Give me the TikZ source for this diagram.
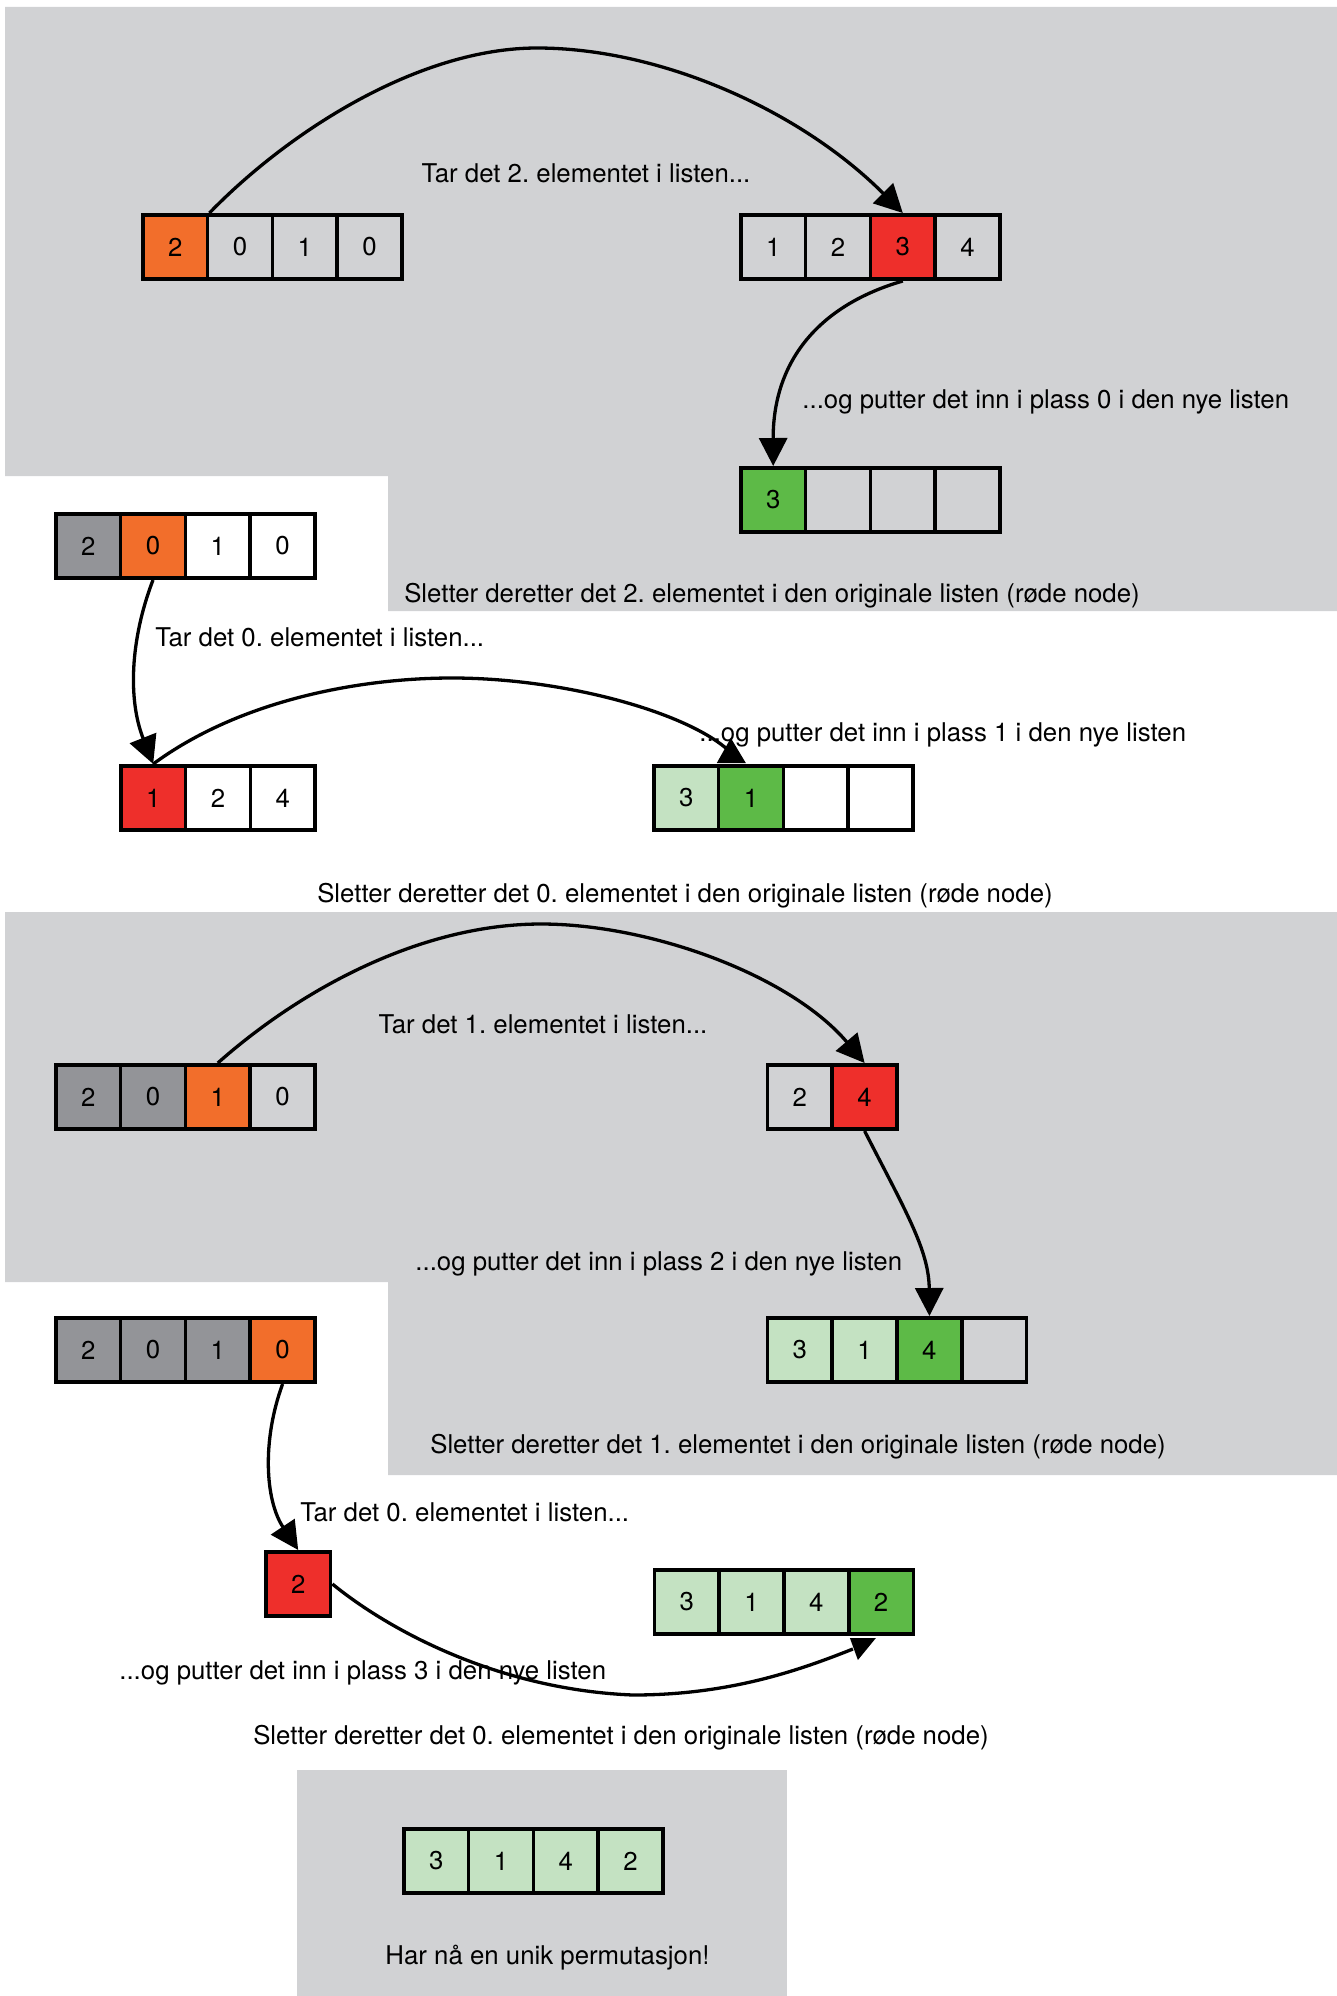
\documentclass[tikz,border=0pt]{standalone}
\usepackage{fontspec}
\setmainfont{TeX Gyre Heros}
\usetikzlibrary{arrows.meta,calc}
\frenchspacing
\definecolor{bgg}{HTML}{D1D2D4}
\definecolor{orng}{HTML}{F26E2B}
\definecolor{redc}{HTML}{EE2F2B}
\definecolor{grn}{HTML}{5DBA47}
\definecolor{lgrn}{HTML}{C4E2C2}
\definecolor{dgry}{HTML}{939498}
\newcommand\lblfont{\fontsize{12.9pt}{15.5pt}\selectfont\frenchspacing}
\newcommand\cellrow[4]{%
  \foreach [count=\i] \f/\t in {#4} {
    \node[cell, fill=\f] (#1-\i) at ({#2+1.8+64.8*(\i-0.5)}, {#3+34}) {\t};
  }%
}
\tikzset{
  cell/.style={draw, line width=1.8pt, minimum width=32.4pt, minimum height=32.2pt,
    inner sep=0pt, anchor=center, font=\lblfont},
  lbl/.style={inner sep=0pt, font=\lblfont},
  conn/.style={line width=1.65pt, -{Triangle[length=14pt,width=14pt]}},
  connplain/.style={line width=1.65pt},
  panel/.style={fill=bgg, draw=none}
}
\begin{document}
\begin{tikzpicture}[x=0.5pt, y=-0.5pt]
\useasboundingbox (0,0) rectangle (1337,1996);
% gray panels
\fill[panel] (5,7) -- (1337,7) -- (1337,611) -- (388,611) -- (388,476) -- (5,476) -- cycle;
\fill[panel] (5,912) -- (1337,912) -- (1337,1475) -- (388,1475) -- (388,1282) -- (5,1282) -- cycle;
\fill[panel] (297,1770) rectangle (787,1996);

% ---------- step 1 ----------
\cellrow{Pa}{141}{213}{orng/2, bgg/0, bgg/1, bgg/0}
\cellrow{Pb}{739}{213}{bgg/1, bgg/2, redc/3, bgg/4}
\cellrow{Pc}{739}{466}{grn/3, bgg/{}, bgg/{}, bgg/{}}
\draw[conn] (Pa-1.north east) .. controls (290,130) and (420,48) .. (537,48)
  .. controls (660,48) and (800,110) .. (Pb-3.north);
\draw[conn] (Pb-3.south) .. controls (820,305) and (773,360) .. (Pc-1.north);
\node[lbl, anchor=base] (t1a) at (586,183) {Tar det 2. elementet i listen...};
\node[lbl, anchor=base west] (t1b) at (802,408) {...og putter det inn i plass 0 i den nye listen};
\node[lbl, anchor=base] (t1c) at (772,602) {Sletter deretter det 2. elementet i den originale listen (røde node)};

% ---------- step 2 ----------
\cellrow{Qa}{54}{512}{dgry/2, orng/0, white/1, white/0}
\cellrow{Qb}{119}{764}{redc/1, white/2, white/4}
\cellrow{Qc}{652}{764}{lgrn/3, grn/1, white/{}, white/{}}
\draw[conn] (Qa-2.south) .. controls (130,640) and (128,700) .. (Qb-1.north);
\coordinate (q2end) at ($(Qc-2.north west)+(9,-16)$);
\draw[connplain] (Qb-1.north) .. controls (240,700) and (360,678) .. (452,678)
  .. controls (560,678) and (680,710) .. (q2end);
\fill ($(Qc-2.north west)+(0,-1)$) -- ($(Qc-2.north west)+(29,-1)$) -- ($(Qc-2.north west)+(14,-26)$) -- cycle;
\node[lbl, anchor=base west] (t2a) at (155,646) {Tar det 0. elementet i listen...};
\node[lbl, anchor=base west] (t2b) at (699,741) {...og putter det inn i plass 1 i den nye listen};
\node[lbl, anchor=base] (t2c) at (685,902) {Sletter deretter det 0. elementet i den originale listen (røde node)};

% ---------- step 3 ----------
\cellrow{Ra}{54}{1063}{dgry/2, dgry/0, orng/1, bgg/0}
\cellrow{Rb}{765.6}{1063}{bgg/2, redc/4}
\cellrow{Rc}{765.6}{1316}{lgrn/3, lgrn/1, grn/4, bgg/{}}
\draw[conn] (Ra-3.north) .. controls (300,990) and (420,924) .. (541,924)
  .. controls (650,924) and (790,975) .. (Rb-2.north);
\draw[conn] (Rb-2.south) .. controls (905,1210) and (929,1250) .. (Rc-3.north);
\node[lbl, anchor=base] (t3a) at (543,1033) {Tar det 1. elementet i listen...};
\node[lbl, anchor=base west] (t3b) at (415,1270) {...og putter det inn i plass 2 i den nye listen};
\node[lbl, anchor=base] (t3c) at (798,1453) {Sletter deretter det 1. elementet i den originale listen (røde node)};

% ---------- step 4 ----------
\cellrow{Sa}{54}{1316}{dgry/2, dgry/0, dgry/1, orng/0}
\node[cell, fill=redc] (Sr) at (264+1.8+32.4, 1550+34) {2};
\cellrow{Sb}{652.5}{1568}{lgrn/3, lgrn/1, lgrn/4, grn/2}
\draw[conn] (Sa-4.south) .. controls (262,1440) and (265,1500) .. (Sr.north);
\node[lbl, anchor=base west] (t4a) at (300,1521) {Tar det 0. elementet i listen...};
\node[lbl, anchor=base west] (t4b) at (119,1679) {...og putter det inn i plass 3 i den nye listen};
\coordinate (s4end) at ($(Sb-4.south west)+(6,13)$);
\draw[connplain] (Sr.east) .. controls (395,1635) and (505,1690) .. (633,1695)
  .. controls (730,1695) and (800,1670) .. (s4end);
\fill ($(Sb-4.south west)+(3,2)$) -- ($(Sb-4.south west)+(29,2)$) -- ($(Sb-4.south west)+(11,24)$) -- cycle;
\node[lbl, anchor=base] (t4c) at (621,1744) {Sletter deretter det 0. elementet i den originale listen (røde node)};

% ---------- result ----------
\cellrow{Ta}{402}{1827}{lgrn/3, lgrn/1, lgrn/4, lgrn/2}
\node[lbl, anchor=base] (t5) at (547.5,1964) {Har nå en unik permutasjon!};
\end{tikzpicture}
\end{document}
